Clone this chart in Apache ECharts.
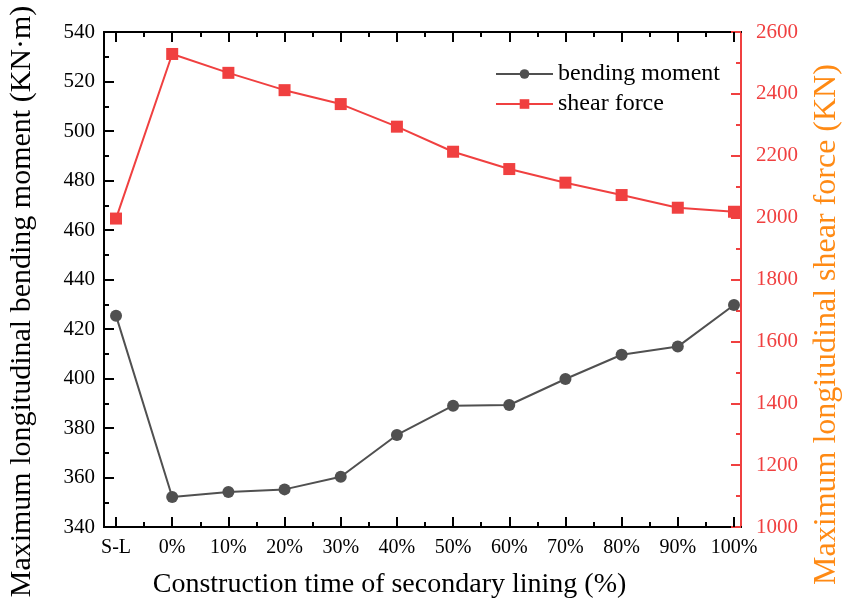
<!DOCTYPE html>
<html>
<head>
<meta charset="utf-8">
<script src="https://cdn.jsdelivr.net/npm/echarts@6/dist/echarts.min.js"></script>
<style>
  html, body { margin: 0; padding: 0; background: #fff; }
  #chart { width: 844px; height: 606px; }
</style>
</head>
<body>
<div id="chart"></div>
<script>
// Construction stages of the secondary lining
const categories = ['S-L', '0%', '10%', '20%', '30%', '40%', '50%', '60%', '70%', '80%', '90%', '100%'];
// Maximum longitudinal bending moment (KN·m)
const bendingMoment = [425.4, 352.1, 354.1, 355.2, 360.3, 377.2, 389.0, 389.3, 399.8, 409.6, 412.9, 429.7];
// Maximum longitudinal shear force (KN)
const shearForce = [1997, 2529, 2468, 2412, 2367, 2294, 2213, 2157, 2113, 2073, 2032, 2019];

const FONT = 'Liberation Serif';
const GRAY = '#505050';
const RED = '#f04040';
const ORANGE = '#ff8a14';

const majorIdx = categories.map((_, i) => i);
const minorIdx = categories.slice(1).map((_, i) => i + 0.5);
const xMin = -0.214, xMax = 11.125;

function xAxisDef(position, values, len, withLabels, name) {
  return {
    type: 'value', position: position, min: xMin, max: xMax,
    name: name || '', nameLocation: 'middle', nameGap: 44,
    nameTextStyle: { fontFamily: FONT, fontSize: 28, color: '#000', padding: [0, 66, 0, 0] },
    axisLine: { show: true, onZero: false, lineStyle: { color: '#000', width: 2 } },
    axisTick: { show: true, inside: true, length: len, customValues: values, lineStyle: { color: '#000', width: 2 } },
    axisLabel: withLabels ? {
      show: true, customValues: values, margin: 11,
      fontFamily: FONT, fontSize: 20, color: '#000',
      formatter: v => categories[Math.round(v)]
    } : { show: false },
    splitLine: { show: false }
  };
}

const chart = echarts.init(document.getElementById('chart'), null, { renderer: 'canvas' });
chart.setOption({
  backgroundColor: '#fff',
  animation: false,
  grid: { left: 104, right: 103, top: 32, bottom: 79, containLabel: false, outerBoundsMode: 'none' },
  legend: {
    orient: 'vertical', left: 490, top: 57, itemGap: 6,
    itemWidth: 57, itemHeight: 12,
    textStyle: { fontFamily: FONT, fontSize: 24, color: '#000' },
    data: ['bending moment', 'shear force']
  },
  xAxis: [
    xAxisDef('bottom', majorIdx, 10, true, 'Construction time of secondary lining (%)'),
    xAxisDef('bottom', minorIdx, 5, false),
    xAxisDef('top', majorIdx, 10, false),
    xAxisDef('top', minorIdx, 5, false)
  ],
  yAxis: [
    {
      type: 'value', position: 'left', min: 340, max: 540, interval: 20,
      name: 'Maximum longitudinal bending moment (KN·m)', nameLocation: 'middle', nameGap: 67,
      nameTextStyle: { fontFamily: FONT, fontSize: 30, color: '#000', padding: [0, 44, 0, 0] },
      axisLine: { show: true, onZero: false, lineStyle: { color: '#000', width: 2 } },
      axisTick: { show: true, inside: true, length: 10, lineStyle: { color: '#000', width: 2 } },
      minorTick: { show: true, splitNumber: 2, length: 5, lineStyle: { color: '#000', width: 2 } },
      axisLabel: { margin: 9, fontFamily: FONT, fontSize: 21, color: '#000' },
      splitLine: { show: false }
    },
    {
      type: 'value', position: 'right', min: 1000, max: 2600, interval: 200,
      name: 'Maximum longitudinal shear force (KN)', nameLocation: 'middle', nameGap: 70,
      nameRotate: 90,
      nameTextStyle: { fontFamily: FONT, fontSize: 32, color: ORANGE, padding: [0, 90, 0, 0] },
      axisLine: { show: true, onZero: false, lineStyle: { color: RED, width: 2 } },
      axisTick: { show: true, inside: true, length: 10, lineStyle: { color: RED, width: 2 } },
      minorTick: { show: true, splitNumber: 2, length: 5, lineStyle: { color: RED, width: 2 } },
      axisLabel: { margin: 15, fontFamily: FONT, fontSize: 21, color: RED, formatter: v => String(v) },
      splitLine: { show: false }
    }
  ],
  series: [
    {
      name: 'bending moment', type: 'line', xAxisIndex: 0, yAxisIndex: 0,
      data: bendingMoment.map((v, i) => [i, v]),
      symbol: 'circle', symbolSize: 12,
      lineStyle: { color: GRAY, width: 2 },
      itemStyle: { color: GRAY }
    },
    {
      name: 'shear force', type: 'line', xAxisIndex: 0, yAxisIndex: 1,
      data: shearForce.map((v, i) => [i, v]),
      symbol: 'rect', symbolSize: 12,
      lineStyle: { color: RED, width: 2 },
      itemStyle: { color: RED }
    }
  ]
});
</script>
</body>
</html>
